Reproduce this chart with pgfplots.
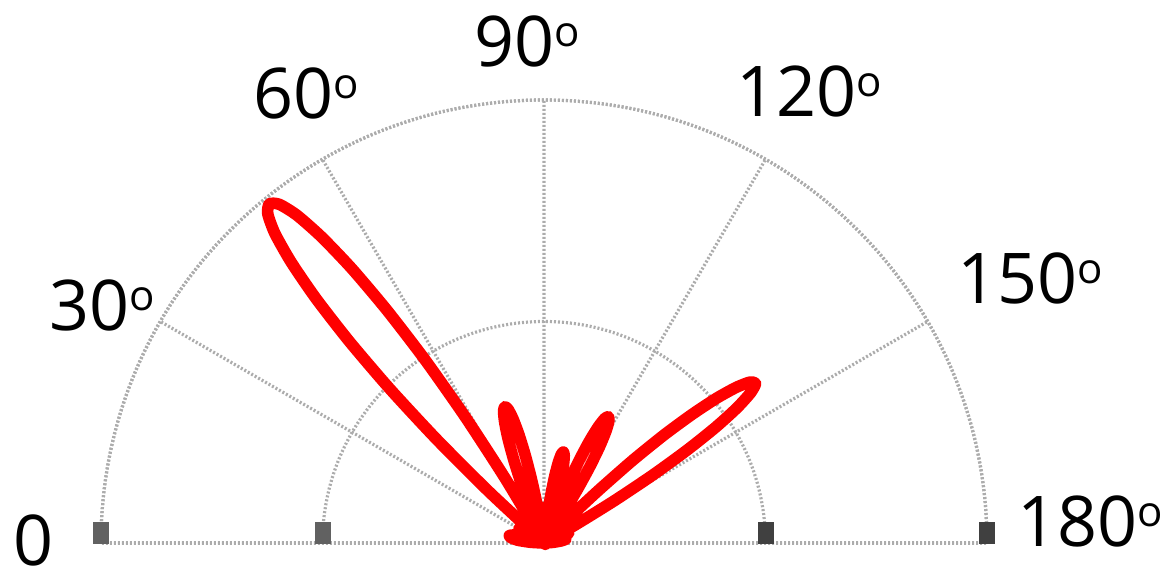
\documentclass[border=0pt]{standalone}
\usepackage{fontspec}
\setmainfont{Open Sans}
\usepackage{pgfplots}
\usepgfplotslibrary{polar}
\pgfplotsset{compat=1.18}
\usepackage{pgfplotstable}
\definecolor{gridgray}{RGB}{172,172,172}
\newcommand{\dg}{\raisebox{10pt}{\fontsize{21}{21}\selectfont o}}
\pgfplotstableread{
t r
0 0.00
3 0.03
6 0.06
9 0.075
12 0.08
15 0.07
18 0.04
21 0.02
24 0.04
27 0.06
30 0.065
33 0.05
36 0.03
39 0.02
42 0.00
43 0.171
44 0.337
45 0.493
46 0.633
47 0.755
48 0.853
49 0.926
50 0.970
51 0.985
52 0.970
53 0.926
54 0.853
55 0.755
56 0.633
57 0.493
58 0.337
59 0.171
60 0.00
62 0.04
64 0.04
67 0.00
68 0.071
69 0.139
70 0.199
71 0.250
72 0.288
73 0.312
74 0.32
75 0.312
76 0.288
77 0.250
78 0.199
79 0.139
80 0.071
81 0.00
83 0.05
85 0.07
87 0.08
89 0.06
91 0.05
93 0.05
95 0.03
96 0.00
97 0.054
98 0.105
99 0.148
100 0.182
101 0.203
102 0.21
103 0.203
104 0.182
105 0.148
106 0.105
107 0.054
108 0.00
109 0.01
110 0.00
111 0.071
112 0.139
113 0.199
114 0.250
115 0.288
116 0.312
117 0.32
118 0.312
119 0.288
120 0.250
121 0.199
122 0.139
123 0.071
124 0.00
126 0.05
129 0.08
132 0.05
134 0.00
135 0.085
136 0.170
137 0.272
138 0.363
139 0.441
140 0.508
141 0.558
142 0.590
143 0.598
144 0.576
145 0.532
146 0.468
147 0.386
148 0.290
149 0.185
150 0.080
151 0.00
153 0.03
155 0.05
158 0.06
161 0.05
164 0.03
167 0.04
170 0.05
173 0.04
176 0.02
180 0.00
}\lobedata
\begin{document}
\begin{tikzpicture}
\begin{polaraxis}[
  xmin=0, xmax=180, ymin=0, ymax=1,
  scale only axis, width=443pt, height=443pt,
  xtick={0,30,...,180}, ytick={0.5,1},
  xticklabels={}, yticklabels={},
  major tick length=0pt,
  grid=major,
  major grid style={gridgray, line width=1.6pt, dash pattern=on 1pt off 1pt},
  axis line style={gridgray, line width=1.6pt, dash pattern=on 1pt off 1pt},
  clip=false,
]
\addplot[only marks, mark=square*, mark size=3.75pt, color=black!62,
  mark options={yshift=5.25pt, yscale=1.4}] coordinates {(180,0.5) (180,1)};
\addplot[only marks, mark=square*, mark size=3.75pt, color=black!75,
  mark options={yshift=5.25pt, yscale=1.4}] coordinates {(0,0.5) (0,1)};
\addplot[red, line width=5.8pt, line join=round, line cap=round, smooth, tension=0.4]
  table[x expr=180-\thisrow{t}, y=r] {\lobedata};
\coordinate (O) at (axis cs:0,0);
\begin{scope}[every node/.style={font=\fontsize{35}{40}\selectfont, inner sep=0pt, anchor=center}]
\node at (axis cs:179.7,1.152) {0};
\node at (axis cs:151.7,1.133) {30\dg};
\node at (axis cs:117.9,1.147) {60\dg};
\node at (axis cs:91.9,1.133) {90\dg};
\node at (axis cs:59.6,1.181) {120\dg};
\node at (axis cs:28.55,1.249) {150\dg};
\node at (axis cs:2.25,1.2335) {180\dg};
\end{scope}
\end{polaraxis}
\pgfresetboundingbox
\path (O) ++(-272pt,-17pt) rectangle ++(582.5pt,288.5pt);
\end{tikzpicture}
\end{document}
